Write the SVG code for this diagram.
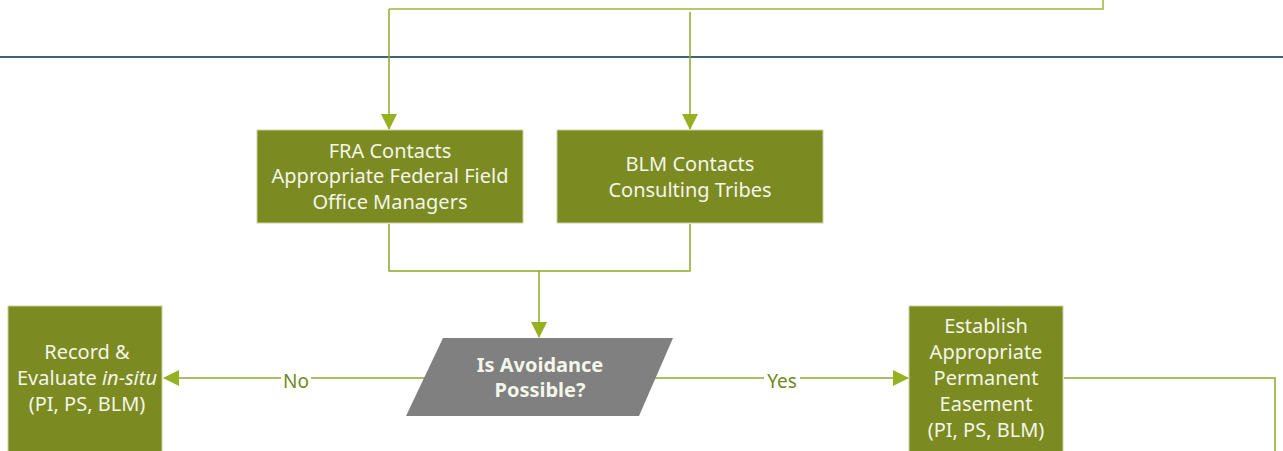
<svg xmlns="http://www.w3.org/2000/svg" width="1283" height="451" viewBox="0 0 1283 451">
<defs>
<style>
.box{fill:#7b8a21;stroke:#c9d29a;stroke-width:1}
.t{font-family:"Noto Sans","Open Sans",sans-serif;font-size:20px;fill:#f4f6ea;text-anchor:middle}
.c{fill:none;stroke:#8fa82a;stroke-width:1.5}
.lbl{font-family:"Noto Sans","Open Sans",sans-serif;font-size:19px;fill:#6f8a1a;text-anchor:middle}
</style>
<marker id="ahd" markerWidth="16" markerHeight="16" refX="15" refY="8" orient="auto" markerUnits="userSpaceOnUse" viewBox="0 0 16 16">
<path d="M0,0 L16,8 L0,16 Z" fill="#95b122"/>
</marker>
</defs>
<rect width="1283" height="451" fill="#ffffff"/>
<line x1="0" y1="57" x2="1283" y2="57" stroke="#3f6275" stroke-width="2"/>
<g id="connectors">
<polyline points="1103,0 1103,9 389,9" fill="none" stroke="#b6c66a" stroke-width="2"/>
<line class="c" x1="389" y1="9" x2="389" y2="129" marker-end="url(#ahd)"/>
<line class="c" x1="690" y1="12" x2="690" y2="129" marker-end="url(#ahd)"/>
<polyline class="c" points="389,224 389,271 690,271 690,224"/>
<line class="c" x1="539" y1="271" x2="539" y2="337" marker-end="url(#ahd)"/>
<line class="c" x1="425" y1="378" x2="164" y2="378" marker-end="url(#ahd)"/>
<line class="c" x1="654" y1="378" x2="908" y2="378" marker-end="url(#ahd)"/>
<polyline class="c" points="1064,378 1275,378 1275,451"/>
<line class="c" x1="86" y1="448" x2="86" y2="451"/>
<rect x="281" y="368" width="30" height="22" fill="#ffffff"/>
<text class="lbl" x="296" y="388">No</text>
<rect x="764" y="368" width="36" height="22" fill="#ffffff"/>
<text class="lbl" x="782" y="388">Yes</text>
</g>
<g id="fra">
<rect class="box" x="257" y="130" width="266" height="93"/>
<text class="t" x="390" y="158">FRA Contacts</text>
<text class="t" x="390" y="183">Appropriate Federal Field</text>
<text class="t" x="390" y="209">Office Managers</text>
</g>
<g id="blm">
<rect class="box" x="557" y="130" width="266" height="93"/>
<text class="t" x="690" y="171">BLM Contacts</text>
<text class="t" x="690" y="197">Consulting Tribes</text>
</g>
<g id="decision">
<polygon points="443,338 673,338 639,416 406,416" fill="#808080"/>
<text class="t" x="540" y="372" font-weight="bold" font-size="19">Is Avoidance</text>
<text class="t" x="540" y="397" font-weight="bold" font-size="19">Possible?</text>
</g>
<g id="record">
<rect class="box" x="8" y="306" width="154" height="150"/>
<text class="t" x="87" y="359">Record &amp;</text>
<text class="t" x="87" y="385">Evaluate <tspan font-style="italic">in-situ</tspan></text>
<text class="t" x="87" y="411">(PI, PS, BLM)</text>
</g>
<g id="establish">
<rect class="box" x="909" y="306" width="154" height="150"/>
<text class="t" x="986" y="333">Establish</text>
<text class="t" x="986" y="359">Appropriate</text>
<text class="t" x="986" y="385">Permanent</text>
<text class="t" x="986" y="411">Easement</text>
<text class="t" x="986" y="437">(PI, PS, BLM)</text>
</g>
</svg>
